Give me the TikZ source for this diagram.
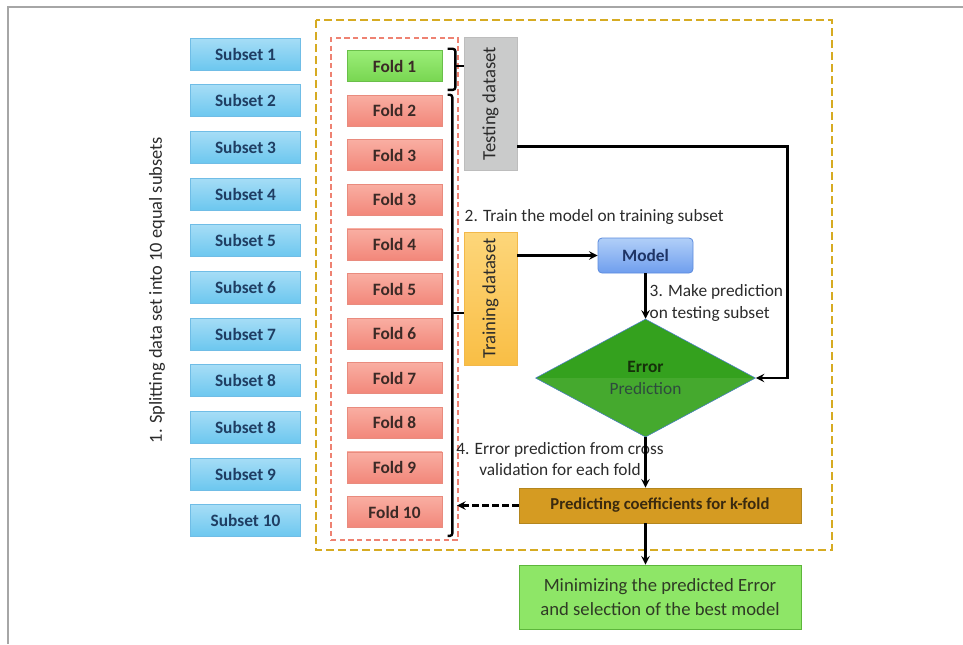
\documentclass[tikz,border=0pt]{standalone}
\usepackage{fontspec}
\setmainfont{Carlito}
\usetikzlibrary{fit, arrows, shapes.geometric}

\definecolor{subsettop}{HTML}{A6DDF6}
\definecolor{subsetbot}{HTML}{6CC7EF}
\definecolor{subsetedge}{HTML}{70BDE6}
\definecolor{subsettext}{HTML}{1F3E63}
\definecolor{greentop}{HTML}{9BEE78}
\definecolor{greenbot}{HTML}{78D651}
\definecolor{greenedge}{HTML}{6ABF4A}
\definecolor{redtop}{HTML}{F9AEA2}
\definecolor{redbot}{HTML}{F2877A}
\definecolor{rededge}{HTML}{E98B7E}
\definecolor{foldtext}{HTML}{3B2A26}
\definecolor{testfill}{HTML}{CACBCB}
\definecolor{testedge}{HTML}{BDBDBD}
\definecolor{traintop}{HTML}{FDD67A}
\definecolor{trainbot}{HTML}{F9BE45}
\definecolor{trainedge}{HTML}{F2B84A}
\definecolor{modeltop}{HTML}{B1CFF8}
\definecolor{modelbot}{HTML}{6F9EEE}
\definecolor{modeledge}{HTML}{5C8BDD}
\definecolor{modeltext}{HTML}{1E3466}
\definecolor{errtop}{HTML}{34A11E}
\definecolor{errbot}{HTML}{45A92E}
\definecolor{erredge}{HTML}{4F7FD0}
\definecolor{errtext}{HTML}{15300A}
\definecolor{errtexttwo}{HTML}{2E4B3E}
\definecolor{coeffill}{HTML}{D59B22}
\definecolor{coefedge}{HTML}{B4861E}
\definecolor{coeftext}{HTML}{3A2A0F}
\definecolor{bestfill}{HTML}{8EE667}
\definecolor{bestedge}{HTML}{5DB63B}
\definecolor{besttext}{HTML}{2F3B25}
\definecolor{reddash}{HTML}{EE8272}
\definecolor{yellowdash}{HTML}{D6AB22}
\definecolor{labeltext}{HTML}{2B2B2B}

\begin{document}
\begin{tikzpicture}[> = stealth, % arrow head style
                x = 0.75pt, y = -0.75pt, % pixel grid, y pointing down
                semithick % line style
            ]

            \useasboundingbox (0,0) rectangle (963,644);

            \tikzstyle{every node}=[font=\fontsize{13}{16}\selectfont, inner sep = 1pt]
            \tikzstyle{subsetbox}=[draw = subsetedge, top color = subsettop,
            bottom color = subsetbot, text = subsettext, minimum width = 83pt,
            minimum height = 24pt, node distance = 35pt,
            font = \fontsize{13}{16}\selectfont\bfseries]
            \tikzstyle{foldbox}=[draw = rededge, top color = redtop,
            bottom color = redbot, text = foldtext, minimum width = 71.25pt,
            minimum height = 23.25pt, node distance = 33.45pt,
            font = \fontsize{13}{16}\selectfont\bfseries]
            \tikzstyle{foldtest}=[foldbox, draw = greenedge, top color = greentop,
            bottom color = greenbot]
            \tikzstyle{datasetbox}=[minimum width = 39.75pt, minimum height = 99.75pt,
            text = labeltext, font = \fontsize{14}{16}\selectfont]
            \tikzstyle{link}=[->, line width = 1.8pt]
            \tikzstyle{bracketline}=[line width = 1.8pt, rounded corners = 2pt]

            % photo frame
            \draw[gray!70, line width = 1pt] (8,644) -- (8,7) -- (963,7);

            % outer boxes
            \draw[yellowdash, line width = 1.6pt, dash pattern = on 6pt off 3pt]
            (316,20) rectangle (832,550);

            % subsets
            \node[subsetbox] (s1) at (245.5,54) {Subset 1};
            \node[subsetbox] (s2) [below of=s1] {Subset 2};
            \node[subsetbox] (s3) [below of=s2] {Subset 3};
            \node[subsetbox] (s4) [below of=s3] {Subset 4};
            \node[subsetbox] (s5) [below of=s4] {Subset 5};
            \node[subsetbox] (s6) [below of=s5] {Subset 6};
            \node[subsetbox] (s7) [below of=s6] {Subset 7};
            \node[subsetbox] (s8) [below of=s7] {Subset 8};
            \node[subsetbox] (s9) [below of=s8] {Subset 8};
            \node[subsetbox] (s10) [below of=s9] {Subset 9};
            \node[subsetbox] (s11) [below of=s10] {Subset 10};

            \node[rotate = 90, text = labeltext, font = \fontsize{13.8}{16}\selectfont]
            (split) at (157,290) {1. Splitting data set into 10 equal subsets};

            % folds
            \node[foldtest] (f1) at (394.5,66) {Fold 1};
            \node[foldbox] (f2) [below of=f1] {Fold 2};
            \node[foldbox] (f3) [below of=f2] {Fold 3};
            \node[foldbox] (f4) [below of=f3] {Fold 3};
            \node[foldbox] (f5) [below of=f4] {Fold 4};
            \node[foldbox] (f6) [below of=f5] {Fold 5};
            \node[foldbox] (f7) [below of=f6] {Fold 6};
            \node[foldbox] (f8) [below of=f7] {Fold 7};
            \node[foldbox] (f9) [below of=f8] {Fold 8};
            \node[foldbox] (f10) [below of=f9] {Fold 9};
            \node[foldbox] (f11) [below of=f10] {Fold 10};

            \node[draw = reddash, line width = 1.2pt, dash pattern = on 4pt off 2.5pt,
            fit = (f1)(f11), inner xsep = 11.6pt, inner ysep = 9pt] (folds) {};

            % datasets
            \node[datasetbox, draw = testedge, fill = testfill] (test) at (490.5,103.5)
            {\rotatebox{90}{Testing dataset}};
            \node[datasetbox, draw = trainedge, top color = traintop,
            bottom color = trainbot] (train) at (490.5,298.5)
            {\rotatebox{90}{Training dataset}};

            % brackets
            \draw[bracketline] ([xshift=4pt,yshift=1pt]f1.north east) -|
            ([xshift=9.75pt]f1.east) |- ([xshift=4pt,yshift=-6pt]f1.south east);
            \draw[line width = 1.8pt] ([xshift=9.75pt]f1.east) -- (f1.east -| test.west);
            \draw[bracketline] ([xshift=4pt]f2.north east) -|
            ([xshift=7.5pt,yshift=-6pt]f11.south east) --
            ([xshift=4pt,yshift=-6pt]f11.south east);
            \coordinate (tick) at (452,313);
            \draw[line width = 1.8pt] (tick) -- (tick -| train.west);

            % model and error
            \node[draw = modeledge, top color = modeltop, bottom color = modelbot,
            rounded corners = 3pt, minimum width = 71.25pt, minimum height = 26.25pt,
            text = modeltext, font = \fontsize{13}{16}\selectfont\bfseries]
            (model) at (645.5,255.5) {Model};
            \node[diamond, draw = erredge, thin, fill = errtop, aspect = 1.86,
            minimum width = 165pt, minimum height = 88.5pt, inner sep = 0pt,
            align = center, path picture = {\fill[errbot]
            (path picture bounding box.west) rectangle
            (path picture bounding box.south east);}]
            (err) at (645.5,378)
            {\textcolor{errtext}{\bfseries Error}\\[1pt]\textcolor{errtexttwo}{Prediction}};

            \node[draw = coefedge, fill = coeffill, minimum width = 211.5pt,
            minimum height = 26.25pt, text = coeftext,
            font = \fontsize{12.5}{15}\selectfont\bfseries]
            (coef) at (660,505.5) {Predicting coefficients for k-fold};
            \node[draw = bestedge, fill = bestfill, minimum width = 211.5pt,
            minimum height = 48pt, text = besttext, align = center,
            font = \fontsize{14}{18}\selectfont]
            (best) at (660,597) {Minimizing the predicted Error\\and selection of the best model};

            % step labels
            \node[anchor = west, text = labeltext] (step2) at (463,217)
            {2. Train the model on training subset};
            \node[anchor = west, align = left, text = labeltext] (step3) at (648,303)
            {3. Make prediction\\on testing subset};
            \node[align = center, text = labeltext] (step4) at (560,459)
            {4. Error prediction from cross\\validation for each fold};

            % connectors
            \draw[link] (train.east |- model.west) -- (model.west);
            \draw[link] (model.south) -- (err.north);
            \draw[link] ([yshift=18pt]test.south east) -- ++(270,0) |- (err.east);
            \draw[link] (err.south) -- (err.south |- coef.north);
            \draw[link] (err.south |- coef.south) -- (err.south |- best.north);
            \coordinate (back) at (457,505.5);
            \draw[link, dash pattern = on 5pt off 2.5pt] (coef.west) -- (coef.west -| back);
        \end{tikzpicture}
\end{document}
